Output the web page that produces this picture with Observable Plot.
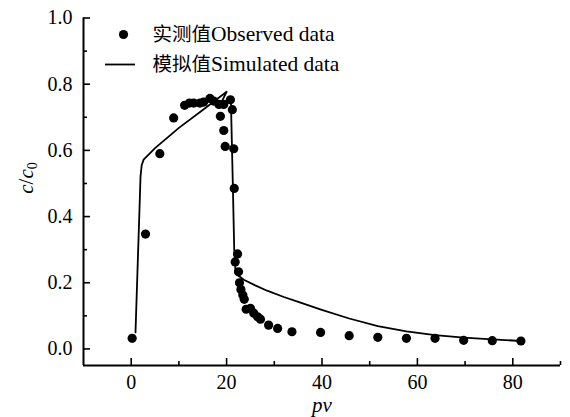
<!DOCTYPE html>
<html><head><meta charset="utf-8">
<script src="https://cdn.jsdelivr.net/npm/d3@7"></script>
<script src="https://cdn.jsdelivr.net/npm/@observablehq/plot@0.6"></script>
<style>body{margin:0;background:#fff}</style>
</head><body><div id="chart"></div>
<script>
// Observed data (pv, c/c0)
const obsPv = [0.2, 3.0, 6.0, 8.9, 11.2, 12.2, 13.1, 14.4, 15.2, 16.5, 17.3, 18.4, 19.4, 20.8, 21.2, 18.7, 19.4, 19.7, 21.5, 21.6, 22.3, 21.8, 22.5, 22.7, 23.0, 23.4, 23.7, 24.1, 25.0, 25.7, 26.5, 27.1, 28.8, 30.7, 33.7, 39.7, 45.7, 51.7, 57.7, 63.7, 69.7, 75.7, 81.7];
const obsC  = [0.032, 0.347, 0.59, 0.698, 0.736, 0.743, 0.743, 0.743, 0.746, 0.757, 0.749, 0.739, 0.739, 0.753, 0.723, 0.703, 0.66, 0.612, 0.605, 0.485, 0.287, 0.263, 0.233, 0.2, 0.18, 0.163, 0.15, 0.12, 0.123, 0.108, 0.097, 0.09, 0.072, 0.062, 0.052, 0.05, 0.04, 0.035, 0.032, 0.032, 0.026, 0.025, 0.024];
// Simulated data (drawing order)
const simPv = [0.9, 1.8, 1.95, 2.2, 2.6, 5, 10, 15, 20.0, 19.0, 20.9, 21.3, 21.6, 21.9, 23.6, 26, 28.5, 32, 35.5, 39.8, 45.7, 51.7, 57.7, 63.7, 69.7, 75.7, 81.7];
const simC  = [0.05, 0.45, 0.52, 0.555, 0.572, 0.607, 0.668, 0.722, 0.777, 0.748, 0.752, 0.5, 0.3, 0.228, 0.209, 0.192, 0.176, 0.157, 0.140, 0.119, 0.092, 0.069, 0.053, 0.042, 0.034, 0.029, 0.024];
// Ticks
const xMajor = [0, 20, 40, 60, 80];
const xMinor = [10, 30, 50, 70, 90];
const yMajor = [0, 0.2, 0.4, 0.6, 0.8, 1.0];
const yMinor = [0.1, 0.3, 0.5, 0.7, 0.9];
const legendLabels = ["实测值Observed data", "模拟值Simulated data"];
const xLabel = "pv";
const yLabel = "c/c0";

const observed = obsPv.map((pv, i) => ({pv, c: obsC[i]}));
const simulated = simPv.map((pv, i) => ({pv, c: simC[i]}));

const W = 570, H = 417, mL = 83, mR = 10, mT = 17.5, mB = 52;
const fw = W - mL - mR, fh = H - mT - mB;
const font = "'Liberation Serif', 'Times New Roman', 'Noto Sans CJK SC', serif";
const lineSym = {draw(ctx) { ctx.moveTo(-15, 0); ctx.lineTo(15, 0); }};
const txt = {fontFamily: font, fill: "#000"};

const chart = Plot.plot({
  width: W, height: H,
  marginLeft: mL, marginRight: mR, marginTop: mT, marginBottom: mB,
  style: {fontFamily: font, fontSize: "19px", color: "#000", background: "#fff"},
  x: {domain: [-10, 90]},
  y: {domain: [-0.05, 1.0]},
  marks: [
    Plot.axisX(xMajor, {tickSize: 0, tickPadding: 9, label: null, fontSize: 20, ...txt}),
    Plot.axisY(yMajor, {tickSize: 0, tickPadding: 11, label: null, fontSize: 20, tickFormat: d3.format(".1f"), ...txt}),
    Plot.tickX(xMajor, {x: d => d, insetTop: fh - 7, strokeWidth: 1.6}),
    Plot.tickX(xMinor, {x: d => d, insetTop: fh - 4, strokeWidth: 1.6}),
    Plot.tickY(yMajor, {y: d => d, insetRight: fw - 7, strokeWidth: 1.6}),
    Plot.tickY(yMinor, {y: d => d, insetRight: fw - 4, strokeWidth: 1.6}),
    Plot.ruleY([-0.05], {strokeWidth: 2}),
    Plot.ruleX([-10], {strokeWidth: 2}),
    Plot.line(simulated, {x: "pv", y: "c", stroke: "#000", strokeWidth: 1.8}),
    Plot.dot(observed, {x: "pv", y: "c", r: 4.6, fill: "#000", stroke: "none"}),
    // legend
    Plot.dot([legendLabels[0]], {frameAnchor: "top-left", dx: 123 - mL, dy: 34 - mT, r: 4.6, fill: "#000", stroke: "none"}),
    Plot.text([legendLabels[0]], {text: d => d, frameAnchor: "top-left", dx: 152 - mL, dy: 34 - mT, textAnchor: "start", lineAnchor: "middle", fontSize: 19.5, ...txt}),
    Plot.dot([legendLabels[1]], {frameAnchor: "top-left", dx: 119.5 - mL, dy: 64 - mT, symbol: lineSym, stroke: "#000", strokeWidth: 1.8, fill: "none"}),
    Plot.text([legendLabels[1]], {text: d => d, frameAnchor: "top-left", dx: 152 - mL, dy: 64 - mT, textAnchor: "start", lineAnchor: "middle", fontSize: 19.5, ...txt}),
    // axis titles
    Plot.text([xLabel], {text: d => d, frameAnchor: "bottom", dy: 40, lineAnchor: "middle", fontStyle: "italic", fontSize: 21, ...txt}),
    Plot.text([yLabel], {text: d => d, frameAnchor: "left", dx: -57, dy: 2, rotate: -90, lineAnchor: "middle", fontSize: 21, ...txt})
  ]
});

const svg = d3.select(chart);
// Format y title with italic c and subscript 0
svg.selectAll("text").filter(function() { return this.textContent === yLabel; }).each(function() {
  const t = d3.select(this);
  t.text(null);
  t.append("tspan").attr("font-style", "italic").text("c");
  t.append("tspan").text("/");
  t.append("tspan").attr("font-style", "italic").text("c");
  t.append("tspan").attr("font-size", 14).attr("dy", "0.3em").text("0");
});
// Legend: CJK part and Latin part in slightly different sizes, as in the original
svg.selectAll("text").filter(function() { return legendLabels.includes(this.textContent); }).each(function() {
  const t = d3.select(this);
  const s = this.textContent;
  t.text(null);
  t.append("tspan").text(s.slice(0, 3));
  t.append("tspan").attr("font-size", 21.5).text(s.slice(3));
});

document.getElementById("chart").appendChild(chart);
</script>
</body></html>
